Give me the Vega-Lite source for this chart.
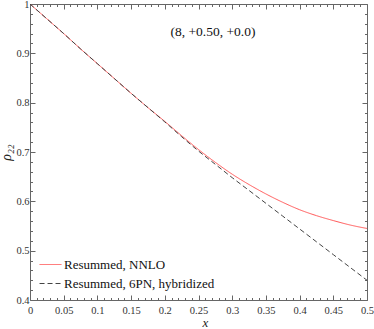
{
  "$schema": "https://vega.github.io/schema/vega-lite/v6.json",
  "width": 337,
  "height": 296,
  "autosize": {"type": "none"},
  "padding": {"left": 30, "top": 4, "right": 7, "bottom": 29},
  "background": "white",
  "config": {
    "view": {"stroke": null},
    "font": "Liberation Serif",
    "axis": {
      "domainColor": "#666",
      "tickColor": "#666",
      "tickWidth": 1,
      "domainWidth": 1,
      "grid": false,
      "labelFont": "Liberation Serif",
      "labelFontSize": 10.5,
      "labelColor": "#333",
      "titleFont": "Liberation Serif",
      "titleFontWeight": "normal",
      "titleColor": "#222"
    }
  },
  "layer": [
    {
      "data": {
        "values": [
          {"x": 0, "rho": 1.0, "series": "Resummed, NNLO"},
          {"x": 0.025, "rho": 0.970, "series": "Resummed, NNLO"},
          {"x": 0.05, "rho": 0.940, "series": "Resummed, NNLO"},
          {"x": 0.075, "rho": 0.909, "series": "Resummed, NNLO"},
          {"x": 0.1, "rho": 0.879, "series": "Resummed, NNLO"},
          {"x": 0.125, "rho": 0.849, "series": "Resummed, NNLO"},
          {"x": 0.15, "rho": 0.819, "series": "Resummed, NNLO"},
          {"x": 0.175, "rho": 0.790, "series": "Resummed, NNLO"},
          {"x": 0.2, "rho": 0.762, "series": "Resummed, NNLO"},
          {"x": 0.225, "rho": 0.733, "series": "Resummed, NNLO"},
          {"x": 0.25, "rho": 0.705, "series": "Resummed, NNLO"},
          {"x": 0.275, "rho": 0.679, "series": "Resummed, NNLO"},
          {"x": 0.3, "rho": 0.655, "series": "Resummed, NNLO"},
          {"x": 0.325, "rho": 0.634, "series": "Resummed, NNLO"},
          {"x": 0.35, "rho": 0.615, "series": "Resummed, NNLO"},
          {"x": 0.375, "rho": 0.598, "series": "Resummed, NNLO"},
          {"x": 0.4, "rho": 0.583, "series": "Resummed, NNLO"},
          {"x": 0.425, "rho": 0.571, "series": "Resummed, NNLO"},
          {"x": 0.45, "rho": 0.561, "series": "Resummed, NNLO"},
          {"x": 0.475, "rho": 0.552, "series": "Resummed, NNLO"},
          {"x": 0.5, "rho": 0.545, "series": "Resummed, NNLO"},
          {"x": 0, "rho": 1.0, "series": "Resummed, 6PN, hybridized"},
          {"x": 0.025, "rho": 0.970, "series": "Resummed, 6PN, hybridized"},
          {"x": 0.05, "rho": 0.940, "series": "Resummed, 6PN, hybridized"},
          {"x": 0.075, "rho": 0.909, "series": "Resummed, 6PN, hybridized"},
          {"x": 0.1, "rho": 0.879, "series": "Resummed, 6PN, hybridized"},
          {"x": 0.125, "rho": 0.849, "series": "Resummed, 6PN, hybridized"},
          {"x": 0.15, "rho": 0.819, "series": "Resummed, 6PN, hybridized"},
          {"x": 0.175, "rho": 0.790, "series": "Resummed, 6PN, hybridized"},
          {"x": 0.2, "rho": 0.761, "series": "Resummed, 6PN, hybridized"},
          {"x": 0.225, "rho": 0.731, "series": "Resummed, 6PN, hybridized"},
          {"x": 0.25, "rho": 0.702, "series": "Resummed, 6PN, hybridized"},
          {"x": 0.275, "rho": 0.675, "series": "Resummed, 6PN, hybridized"},
          {"x": 0.3, "rho": 0.648, "series": "Resummed, 6PN, hybridized"},
          {"x": 0.325, "rho": 0.622, "series": "Resummed, 6PN, hybridized"},
          {"x": 0.35, "rho": 0.596, "series": "Resummed, 6PN, hybridized"},
          {"x": 0.375, "rho": 0.570, "series": "Resummed, 6PN, hybridized"},
          {"x": 0.4, "rho": 0.544, "series": "Resummed, 6PN, hybridized"},
          {"x": 0.425, "rho": 0.518, "series": "Resummed, 6PN, hybridized"},
          {"x": 0.45, "rho": 0.492, "series": "Resummed, 6PN, hybridized"},
          {"x": 0.475, "rho": 0.466, "series": "Resummed, 6PN, hybridized"},
          {"x": 0.5, "rho": 0.440, "series": "Resummed, 6PN, hybridized"}
        ]
      },
      "mark": {"type": "line", "strokeWidth": 1, "interpolate": "monotone", "clip": true},
      "encoding": {
        "x": {
          "field": "x", "type": "quantitative",
          "scale": {"domain": [0, 0.5], "nice": false, "zero": false},
          "axis": {
            "orient": "bottom",
            "title": "x",
            "titleFontStyle": "italic",
            "titleFontSize": 13,
            "titleBaseline": "middle",
            "titleX": 175,
            "titleY": 22,
            "values": [0,0.01,0.02,0.03,0.04,0.05,0.06,0.07,0.08,0.09,0.1,0.11,0.12,0.13,0.14,0.15,0.16,0.17,0.18,0.19,0.2,0.21,0.22,0.23,0.24,0.25,0.26,0.27,0.28,0.29,0.3,0.31,0.32,0.33,0.34,0.35,0.36,0.37,0.38,0.39,0.4,0.41,0.42,0.43,0.44,0.45,0.46,0.47,0.48,0.49,0.5],
            "tickSize": {"condition": {"test": "abs(datum.value*20 - round(datum.value*20)) < 0.001", "value": -5}, "value": -2.5},
            "labelExpr": "abs(datum.value*20 - round(datum.value*20)) < 0.001 ? (datum.value == 0 ? '0' : format(datum.value, '.2~f')) : ''",
            "labelPadding": 10,
            "labelFlush": false,
            "labelOverlap": false
          }
        },
        "y": {
          "field": "rho", "type": "quantitative",
          "scale": {"domain": [0.4, 1.0], "nice": false, "zero": false},
          "axis": {
            "orient": "left",
            "title": "ρ₂₂",
            "titleFontStyle": "italic",
            "titleFontSize": 14,
            "titlePadding": 2,
            "values": [0.4,0.42,0.44,0.46,0.48,0.5,0.52,0.54,0.56,0.58,0.6,0.62,0.64,0.66,0.68,0.7,0.72,0.74,0.76,0.78,0.8,0.82,0.84,0.86,0.88,0.9,0.92,0.94,0.96,0.98,1],
            "tickSize": {"condition": {"test": "abs(datum.value*10 - round(datum.value*10)) < 0.001", "value": -5}, "value": -2.5},
            "labelExpr": "abs(datum.value*10 - round(datum.value*10)) < 0.001 ? (datum.value >= 0.999 ? '1' : format(datum.value, '.1~f')) : ''",
            "labelPadding": 6,
            "labelFlush": false,
            "labelBound": false,
            "labelOverlap": false
          }
        },
        "color": {
          "field": "series", "type": "nominal",
          "scale": {"domain": ["Resummed, NNLO", "Resummed, 6PN, hybridized"], "range": ["#ff5555", "#444444"]},
          "legend": {
            "title": null,
            "orient": "bottom-left",
            "offset": 9,
            "padding": 0,
            "symbolType": "stroke",
            "symbolSize": 480,
            "symbolStrokeWidth": 1,
            "labelFont": "Liberation Serif",
            "labelFontSize": 13,
            "labelColor": "#111",
            "labelOffset": 2,
            "rowPadding": -13,
            "labelLimit": 300
          }
        },
        "strokeDash": {
          "field": "series", "type": "nominal",
          "scale": {"domain": ["Resummed, NNLO", "Resummed, 6PN, hybridized"], "range": [[1, 0], [5, 3]]},
          "legend": {
            "title": null,
            "orient": "bottom-left",
            "offset": 9,
            "padding": 0,
            "symbolType": "stroke",
            "symbolSize": 480,
            "symbolStrokeWidth": 1,
            "labelFont": "Liberation Serif",
            "labelFontSize": 13,
            "labelColor": "#111",
            "labelOffset": 2,
            "rowPadding": -13,
            "labelLimit": 300
          }
        }
      }
    },
    {
      "data": {"values": [{"x": 0.2715, "rho": 0.943, "label": "(8, +0.50, +0.0)"}]},
      "mark": {"type": "text", "font": "Liberation Serif", "fontSize": 13.5, "color": "#111", "align": "center", "baseline": "middle"},
      "encoding": {
        "x": {
          "field": "x", "type": "quantitative",
          "scale": {"domain": [0, 0.5], "nice": false, "zero": false},
          "axis": {
            "orient": "top",
            "title": null,
            "labels": false,
            "values": [0,0.01,0.02,0.03,0.04,0.05,0.06,0.07,0.08,0.09,0.1,0.11,0.12,0.13,0.14,0.15,0.16,0.17,0.18,0.19,0.2,0.21,0.22,0.23,0.24,0.25,0.26,0.27,0.28,0.29,0.3,0.31,0.32,0.33,0.34,0.35,0.36,0.37,0.38,0.39,0.4,0.41,0.42,0.43,0.44,0.45,0.46,0.47,0.48,0.49,0.5],
            "tickSize": {"condition": {"test": "abs(datum.value*20 - round(datum.value*20)) < 0.001", "value": -5}, "value": -2.5}
          }
        },
        "y": {
          "field": "rho", "type": "quantitative",
          "scale": {"domain": [0.4, 1.0], "nice": false, "zero": false},
          "axis": {
            "orient": "right",
            "title": null,
            "labels": false,
            "values": [0.4,0.42,0.44,0.46,0.48,0.5,0.52,0.54,0.56,0.58,0.6,0.62,0.64,0.66,0.68,0.7,0.72,0.74,0.76,0.78,0.8,0.82,0.84,0.86,0.88,0.9,0.92,0.94,0.96,0.98,1],
            "tickSize": {"condition": {"test": "abs(datum.value*10 - round(datum.value*10)) < 0.001", "value": -5}, "value": -2.5}
          }
        },
        "text": {"field": "label", "type": "nominal"}
      }
    }
  ],
  "resolve": {"axis": {"x": "independent", "y": "independent"}}
}
